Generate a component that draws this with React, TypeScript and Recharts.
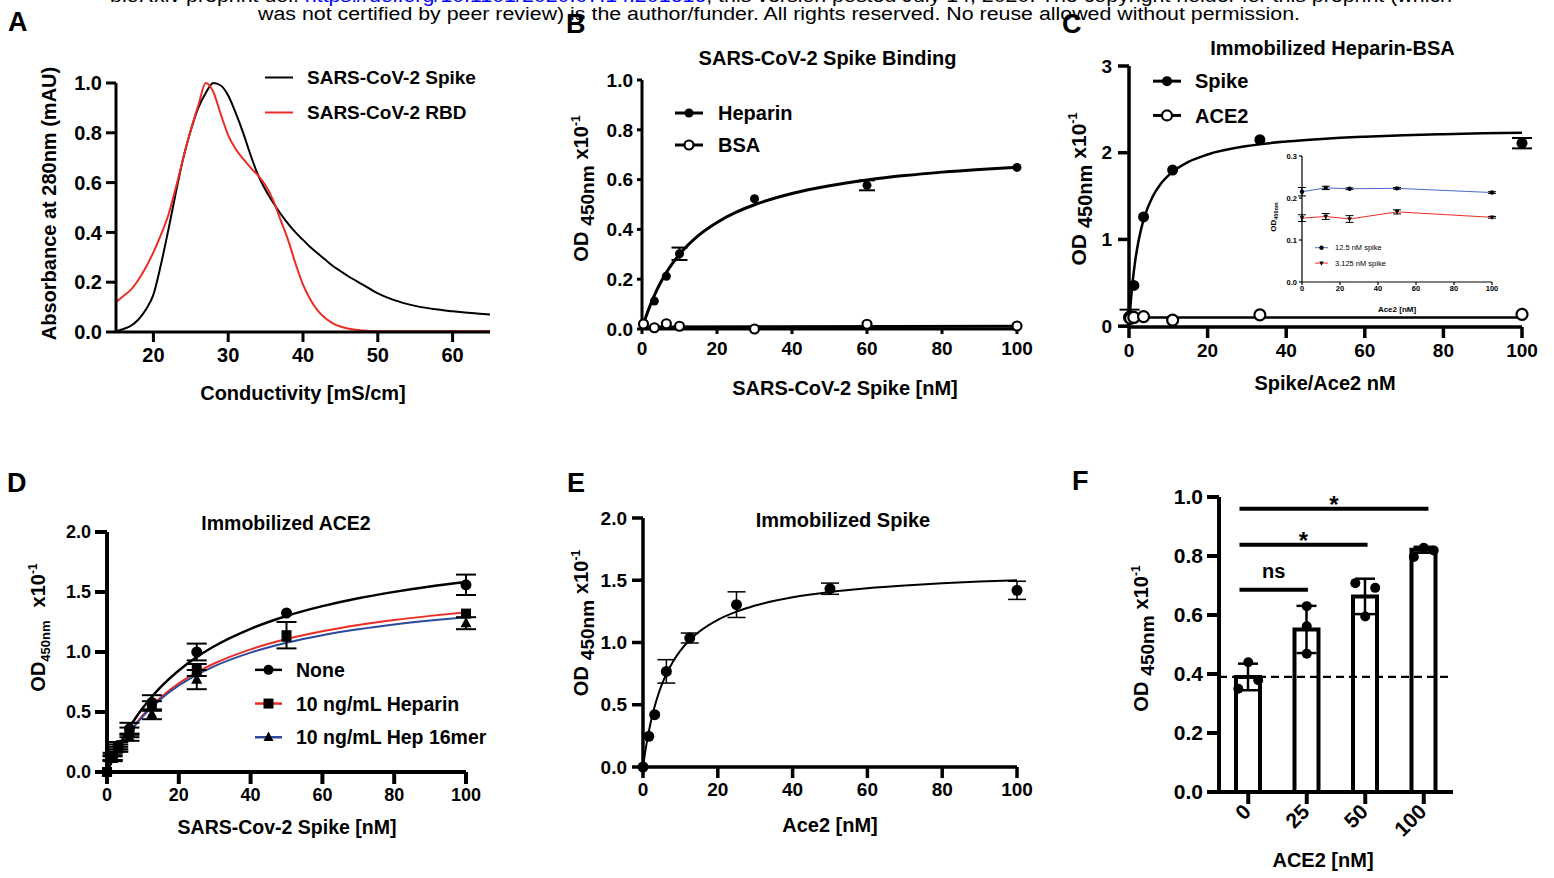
import React from 'react';
import { ComposedChart, LineChart, Line, Scatter, XAxis, YAxis, ErrorBar, Legend, Bar, ReferenceLine } from 'recharts';

const FONT = '"Liberation Sans", Arial, Helvetica, sans-serif';
const RED = '#ec2d25';
const BLUE = '#2c4a9c';
const INSET_BLUE = '#4a6cc8';

// ---------- Panel A: elution profiles ----------
const condA = [15,16,17,18,19,20,21,22,23,24,25,26,27,28,29,30,31,32,33,34,35,36,37,38,39,40,41,42,43,44,45,46,48,50,52,55,58,60,62,65];
const spikeA = [0.003,0.012,0.025,0.05,0.09,0.15,0.27,0.41,0.56,0.70,0.81,0.90,0.96,1.0,0.99,0.95,0.88,0.80,0.71,0.63,0.57,0.52,0.475,0.435,0.40,0.37,0.34,0.315,0.29,0.265,0.245,0.225,0.19,0.155,0.13,0.105,0.09,0.083,0.077,0.07];
const rbdA = [0.12,0.145,0.17,0.21,0.26,0.32,0.39,0.47,0.58,0.70,0.81,0.91,1.0,0.965,0.875,0.79,0.735,0.695,0.66,0.628,0.588,0.53,0.45,0.37,0.275,0.19,0.13,0.085,0.055,0.035,0.022,0.014,0.006,0.003,0.003,0.003,0.003,0.004,0.003,0.004];
const ticksA = [20,30,40,50,60];

// ---------- Panel B: spike binding ----------
const concB = [0.4, 3.3, 6.5, 10, 30, 60, 100];
const heparinB = [0.021, 0.112, 0.212, 0.302, 0.523, 0.577, 0.649];
const heparinErrB = [0, 0, 0, 0.025, 0, 0.02, 0];
const bsaB = [0.02, 0.005, 0.021, 0.011, 0.0, 0.019, 0.012];
const fitXB = [0,1,2,3,5,7,10,15,20,25,30,40,50,60,70,80,90,100];
const heparinFitB = [0,0.047,0.088,0.125,0.188,0.239,0.300,0.375,0.428,0.468,0.499,0.544,0.575,0.598,0.616,0.630,0.641,0.650];
const bsaFitXB = [0, 100];
const bsaFitB = [0.008, 0.011];

// ---------- Panel C: immobilized heparin-BSA ----------
const concC = [0.14, 0.41, 1.23, 3.7, 11.1, 33.3, 100];
const spikeC = [0.09, 0.12, 0.47, 1.26, 1.80, 2.15, 2.11];
const spikeErrC = [0.1, 0, 0, 0, 0, 0, 0.06];
const ace2C = [0.1, 0.09, 0.1, 0.11, 0.07, 0.13, 0.135];
const fitXC = [0,0.25,0.5,1,1.5,2,3,4,6,8,11,15,20,30,40,50,60,70,80,90,100];
const spikeFitC = [0,0.164,0.306,0.541,0.726,0.876,1.104,1.269,1.492,1.636,1.776,1.892,1.980,2.077,2.129,2.162,2.184,2.201,2.213,2.223,2.230];
const ace2FitXC = [0, 100];
const ace2FitC = [0.1, 0.1];

// inset
const aceInset = [0, 12.5, 25, 50, 100];
const spike125 = [0.215, 0.224, 0.222, 0.223, 0.213];
const spike125Err = [0.01, 0.004, 0.002, 0.002, 0.002];
const spike3125 = [0.152, 0.156, 0.150, 0.167, 0.154];
const spike3125Err = [0.008, 0.007, 0.008, 0.005, 0.002];

// ---------- Panel D: immobilized ACE2 ----------
const concD = [0, 1.56, 3.125, 6.25, 12.5, 25, 50, 100];
const noneD = [0, 0.13, 0.22, 0.36, 0.58, 1.0, 1.325, 1.56];
const noneErrD = [0, 0.03, 0.03, 0.05, 0.06, 0.07, 0, 0.085];
const hepD = [0, 0.12, 0.2, 0.33, 0.55, 0.85, 1.14, 1.32];
const hepErrD = [0, 0.02, 0.03, 0.04, 0.04, 0.05, 0.11, 0];
const h16D = [0, 0.11, 0.19, 0.29, 0.48, 0.77, 1.12, 1.24];
const h16ErrD = [0, 0.02, 0.02, 0.03, 0.04, 0.08, 0, 0.05];
const fitXD = [0,2,4,6,8,10,12.5,15,20,25,30,40,50,60,70,80,90,100];
const noneFitD = [0,0.136,0.254,0.359,0.452,0.535,0.627,0.709,0.846,0.958,1.050,1.193,1.300,1.382,1.448,1.501,1.546,1.583];
const hepFitD = [0,0.123,0.229,0.321,0.402,0.474,0.553,0.622,0.738,0.830,0.906,1.022,1.108,1.173,1.225,1.267,1.301,1.330];
const h16FitD = [0,0.121,0.225,0.315,0.394,0.464,0.541,0.609,0.721,0.810,0.883,0.995,1.077,1.140,1.189,1.229,1.262,1.290];

// ---------- Panel E: immobilized spike ----------
const concE = [0, 1.56, 3.125, 6.25, 12.5, 25, 50, 100];
const spikeE = [0, 0.246, 0.42, 0.768, 1.036, 1.304, 1.432, 1.419];
const errE = [0, 0, 0, 0.094, 0.04, 0.103, 0.045, 0.073];
const fitXE = [0,1,2,3,4,5,6.25,8,10,12.5,15,20,25,30,40,50,60,70,80,90,100];
const fitE = [0,0.196,0.350,0.473,0.574,0.659,0.747,0.846,0.935,1.020,1.086,1.182,1.248,1.297,1.363,1.406,1.436,1.458,1.475,1.489,1.500];

// ---------- Panel F: bars ----------
const catsF = ['0', '25', '50', '100'];
const meanF = [0.39, 0.551, 0.663, 0.821];
const sdF = [0.045, 0.08, 0.06, 0.01];
const repsF = [[0.35, 0.44, 0.379], [0.63, 0.562, 0.469], [0.708, 0.595, 0.692], [0.797, 0.828, 0.819]];
const jitterF = [[-0.17, 0, 0.17], [0, 0, 0], [-0.17, 0, 0.17], [-0.17, 0, 0.17]];
const baselineF = 0.39;
const sigY = [0.686, 0.838, 0.96];
const sigFrom = [-0.15, -0.15, -0.15];
const sigTo = [1.02, 2.04, 3.08];
const sigText = ['ns', '*', '*'];

// ---------- tables ----------
const tableA = condA.map((x, i) => ({ x, spike: spikeA[i], rbd: rbdA[i] }));
const hepPtsB = concB.map((x, i) => ({ x, y: heparinB[i], e: heparinErrB[i] }));
const bsaPtsB = concB.map((x, i) => ({ x, y: bsaB[i] }));
const hepFitTB = fitXB.map((x, i) => ({ x, y: heparinFitB[i] }));
const bsaFitTB = bsaFitXB.map((x, i) => ({ x, y: bsaFitB[i] }));
const spikePtsC = concC.map((x, i) => ({ x, y: spikeC[i], e: spikeErrC[i] }));
const acePtsC = concC.map((x, i) => ({ x, y: ace2C[i] }));
const spikeFitTC = fitXC.map((x, i) => ({ x, y: spikeFitC[i] }));
const aceFitTC = ace2FitXC.map((x, i) => ({ x, y: ace2FitC[i] }));
const insetT = aceInset.map((x, i) => ({ x, a: spike125[i], ae: spike125Err[i], b: spike3125[i], be: spike3125Err[i] }));
const nonePtsD = concD.map((x, i) => ({ x, y: noneD[i], e: noneErrD[i] }));
const hepPtsD = concD.map((x, i) => ({ x, y: hepD[i], e: hepErrD[i] }));
const h16PtsD = concD.map((x, i) => ({ x, y: h16D[i], e: h16ErrD[i] }));
const noneFitTD = fitXD.map((x, i) => ({ x, y: noneFitD[i] }));
const hepFitTD = fitXD.map((x, i) => ({ x, y: hepFitD[i] }));
const h16FitTD = fitXD.map((x, i) => ({ x, y: h16FitD[i] }));
const ptsE = concE.map((x, i) => ({ x, y: spikeE[i], e: errE[i] }));
const fitTE = fitXE.map((x, i) => ({ x, y: fitE[i] }));
const barsF = catsF.map((c, i) => ({ c, m: meanF[i], sd: sdF[i] }));
const dotsF = repsF.flatMap((r, i) => r.map((y, j) => ({ x: i + jitterF[i][j], y })));

// ---------- helpers ----------
const ax = (w: number, size: number, fs: number, margin = 4) => ({
  axisLine: { stroke: '#000', strokeWidth: w },
  tickLine: { stroke: '#000', strokeWidth: w },
  tickSize: size,
  tickMargin: margin,
  tick: { fill: '#000', fontSize: fs, fontWeight: 700 },
});
const f1 = (v: number) => v.toFixed(1);

function Marker({ kind, cx, cy, s }: { kind: string; cx: number; cy: number; s: number }) {
  if (cx == null || cy == null) return null;
  if (kind === 'circle') return <circle cx={cx} cy={cy} r={s} fill="#000" />;
  if (kind === 'open') return <circle cx={cx} cy={cy} r={s} fill="#fff" stroke="#000" strokeWidth={2.2} />;
  if (kind === 'square') return <rect x={cx - s} y={cy - s} width={2 * s} height={2 * s} fill="#000" />;
  if (kind === 'triangle') return <polygon points={`${cx},${cy - s * 1.15} ${cx - s},${cy + s * 0.75} ${cx + s},${cy + s * 0.75}`} fill="#000" />;
  if (kind === 'tridown') return <polygon points={`${cx - s},${cy - s * 0.75} ${cx + s},${cy - s * 0.75} ${cx},${cy + s * 1.15}`} fill="#000" />;
  return null;
}
const shapeOf = (kind: string, s: number) => (p: any) => <Marker kind={kind} cx={p.cx} cy={p.cy} s={s} />;

type LegItem = { name: string; line: string; kind: string };
type LegOpt = { rowH: number; lineLen: number; textX: number; fs: number; s: number; lw: number; weight: number; width: number };
const legendContent = (items: LegItem[], o: LegOpt) => () => (
  <svg width={o.width} height={items.length * o.rowH} style={{ display: 'block', overflow: 'visible' }}>
    {items.map((it, i) => {
      const cy = o.rowH * i + o.rowH / 2;
      return (
        <g key={i}>
          <line x1={0} x2={o.lineLen} y1={cy} y2={cy} stroke={it.line} strokeWidth={o.lw} />
          <Marker kind={it.kind} cx={o.lineLen / 2} cy={cy} s={o.s} />
          <text x={o.textX} y={cy + o.fs * 0.36} fontSize={o.fs} fontWeight={o.weight} fill="#000" fontFamily={FONT}>{it.name}</text>
        </g>
      );
    })}
  </svg>
);

function OdLabel(props: { x: number; y: number; fs: number; subFs: number; subDy: number; gap1: number; gap2: number; withX?: boolean }) {
  const { x, y, fs, subFs, subDy, gap1, gap2, withX = true } = props;
  return (
    <text transform={`translate(${x},${y}) rotate(-90)`} textAnchor="middle" fontSize={fs} fontWeight={700} fill="#000" fontFamily={FONT}>
      <tspan>OD</tspan>
      <tspan dx={gap1} dy={subDy} fontSize={subFs}>450nm</tspan>
      {withX && <tspan dx={gap2} dy={-subDy}>x10</tspan>}
      {withX && <tspan dy={-fs * 0.42} fontSize={fs * 0.6}>-1</tspan>}
    </text>
  );
}
const xText = (x: number, y: number, text: string, fs = 20) => () => (
  <text x={x} y={y} textAnchor="middle" fontSize={fs} fontWeight={700} fill="#000" fontFamily={FONT}>{text}</text>
);

const RotTick = (p: any) => {
  const x = p.x + 4, y = p.y + 7;
  return <text x={x} y={y} textAnchor="end" transform={`rotate(-45 ${x} ${y})`} fontSize={21} fontWeight={700} fill="#000" fontFamily={FONT}>{p.payload.value}</text>;
};

const Pos = ({ l, t, children }: any) => <div style={{ position: 'absolute', left: l, top: t }}>{children}</div>;

// ---------- panels ----------
function PanelA() {
  const L = 0, T = 40;
  return (
    <Pos l={L} t={T}>
      <LineChart width={520} height={380} data={tableA} margin={{ top: 43, right: 30, left: 0, bottom: 0 }}>
        <XAxis type="number" dataKey="x" domain={[15, 65]} ticks={ticksA} interval={0} height={88} {...ax(3, 10, 20, 6)} label={xText(303 - L, 400 - T, 'Conductivity [mS/cm]')} />
        <YAxis type="number" domain={[0, 1]} ticks={[0, 0.2, 0.4, 0.6, 0.8, 1]} interval={0} width={116} tickFormatter={f1} {...ax(3, 10, 20, 4)}
          label={() => <text transform={`translate(${56 - L},${203.5 - T}) rotate(-90)`} textAnchor="middle" fontSize={20} fontWeight={700} fill="#000" fontFamily={FONT}>Absorbance at 280nm (mAU)</text>} />
        <Line dataKey="spike" name="SARS-CoV-2 Spike" stroke="#000" strokeWidth={2} dot={false} type="monotone" isAnimationActive={false} />
        <Line dataKey="rbd" name="SARS-CoV-2 RBD" stroke={RED} strokeWidth={2} dot={false} type="monotone" isAnimationActive={false} />
        <Legend layout="vertical" align="center" verticalAlign="middle" wrapperStyle={{ left: 265 - L, top: 77 - T - 17.5, width: 240 }}
          content={legendContent([{ name: 'SARS-CoV-2 Spike', line: '#000', kind: 'none' }, { name: 'SARS-CoV-2 RBD', line: RED, kind: 'none' }], { rowH: 35, lineLen: 28, textX: 42, fs: 19, s: 0, lw: 2, weight: 700, width: 240 })} />
      </LineChart>
    </Pos>
  );
}

function PanelB() {
  const L = 540, T = 40;
  return (
    <Pos l={L} t={T}>
      <ComposedChart width={510} height={380} margin={{ top: 40, right: 33, left: 0, bottom: 0 }}>
        <XAxis type="number" dataKey="x" domain={[0, 100]} ticks={[0, 20, 40, 60, 80, 100]} interval={0} height={91} {...ax(3, 5, 19, 8)} label={xText(845 - L, 395 - T, 'SARS-CoV-2 Spike [nM]')} />
        <YAxis type="number" domain={[0, 1]} ticks={[0, 0.2, 0.4, 0.6, 0.8, 1]} interval={0} width={102} tickFormatter={f1} {...ax(3, 5, 19, 4)}
          label={() => <OdLabel x={588 - L} y={188.5 - T} fs={20} subFs={19} subDy={6} gap1={6} gap2={6} />} />
        <Line data={hepFitTB} dataKey="y" stroke="#000" strokeWidth={3} dot={false} type="monotone" legendType="none" isAnimationActive={false} />
        <Line data={bsaFitTB} dataKey="y" stroke="#000" strokeWidth={3} dot={false} type="linear" legendType="none" isAnimationActive={false} />
        <Scatter data={hepPtsB} dataKey="y" name="Heparin" shape={shapeOf('circle', 4.5)} isAnimationActive={false}>
          <ErrorBar dataKey="e" direction="y" width={8} stroke="#000" strokeWidth={2} />
        </Scatter>
        <Scatter data={bsaPtsB} dataKey="y" name="BSA" shape={shapeOf('open', 4.5)} isAnimationActive={false} />
        <Legend layout="vertical" align="center" verticalAlign="middle" wrapperStyle={{ left: 675 - L, top: 113 - T - 16, width: 160 }}
          content={legendContent([{ name: 'Heparin', line: '#000', kind: 'circle' }, { name: 'BSA', line: '#000', kind: 'open' }], { rowH: 32, lineLen: 28, textX: 43, fs: 20, s: 4.5, lw: 3, weight: 700, width: 160 })} />
      </ComposedChart>
    </Pos>
  );
}

function PanelC() {
  const L = 1040, T = 30;
  return (
    <Pos l={L} t={T}>
      <ComposedChart width={514} height={390} margin={{ top: 36, right: 32, left: 0, bottom: 0 }}>
        <XAxis type="number" dataKey="x" domain={[0, 100]} ticks={[0, 20, 40, 60, 80, 100]} interval={0} height={93} {...ax(3.5, 11, 19, 6)} label={xText(1325 - L, 390 - T, 'Spike/Ace2 nM')} />
        <YAxis type="number" domain={[0, 3]} ticks={[0, 1, 2, 3]} interval={0} width={89} {...ax(3.5, 11, 19, 6)}
          label={() => <OdLabel x={1086 - L} y={189 - T} fs={21} subFs={20} subDy={6} gap1={6} gap2={6} />} />
        <Line data={spikeFitTC} dataKey="y" stroke="#000" strokeWidth={2.5} dot={false} type="monotone" legendType="none" isAnimationActive={false} />
        <Line data={aceFitTC} dataKey="y" stroke="#000" strokeWidth={2.5} dot={false} type="linear" legendType="none" isAnimationActive={false} />
        <Scatter data={spikePtsC} dataKey="y" name="Spike" shape={shapeOf('circle', 5.5)} isAnimationActive={false}>
          <ErrorBar dataKey="e" direction="y" width={10} stroke="#000" strokeWidth={2} />
        </Scatter>
        <Scatter data={acePtsC} dataKey="y" name="ACE2" shape={shapeOf('open', 5.5)} isAnimationActive={false} />
        <Legend layout="vertical" align="center" verticalAlign="middle" wrapperStyle={{ left: 1153 - L, top: 80.7 - T - 17, width: 160 }}
          content={legendContent([{ name: 'Spike', line: '#000', kind: 'circle' }, { name: 'ACE2', line: '#000', kind: 'open' }], { rowH: 34.3, lineLen: 28, textX: 42, fs: 20, s: 5, lw: 3, weight: 700, width: 160 })} />
      </ComposedChart>
    </Pos>
  );
}

function InsetC() {
  const L = 1262, T = 150;
  return (
    <Pos l={L} t={T}>
      <ComposedChart width={240} height={165} data={insetT} margin={{ top: 6, right: 10, left: 0, bottom: 0 }}>
        <XAxis type="number" dataKey="x" domain={[0, 100]} ticks={[0, 20, 40, 60, 80, 100]} interval={0} height={33} {...ax(1.2, 3, 7.5, 1)} label={xText(1397 - L, 312 - T, 'Ace2 [nM]', 8)} />
        <YAxis type="number" domain={[0, 0.3]} ticks={[0, 0.1, 0.2, 0.3]} interval={0} width={40} tickFormatter={f1} {...ax(1.2, 3, 7.5, 2)}
          label={() => <OdLabel x={1276 - L} y={217 - T} fs={8} subFs={5.5} subDy={2} gap1={0} gap2={0} withX={false} />} />
        <Line dataKey="a" name="12.5 nM spike" stroke={INSET_BLUE} strokeWidth={1} type="linear" dot={shapeOf('circle', 2.2)} isAnimationActive={false}>
          <ErrorBar dataKey="ae" direction="y" width={4} stroke="#000" strokeWidth={1} />
        </Line>
        <Line dataKey="b" name="3.125 nM spike" stroke={RED} strokeWidth={1} type="linear" dot={shapeOf('tridown', 2.4)} isAnimationActive={false}>
          <ErrorBar dataKey="be" direction="y" width={4} stroke="#000" strokeWidth={1} />
        </Line>
        <Legend layout="vertical" align="center" verticalAlign="middle" wrapperStyle={{ left: 1315 - L, top: 247.3 - T - 7.7, width: 90 }}
          content={legendContent([{ name: '12.5 nM spike', line: INSET_BLUE, kind: 'circle' }, { name: '3.125 nM spike', line: RED, kind: 'tridown' }], { rowH: 15.4, lineLen: 13, textX: 20, fs: 7.5, s: 2.2, lw: 1, weight: 400, width: 90 })} />
      </ComposedChart>
    </Pos>
  );
}

function PanelD() {
  const L = 0, T = 500;
  return (
    <Pos l={L} t={T}>
      <ComposedChart width={520} height={350} margin={{ top: 32, right: 54, left: 0, bottom: 0 }}>
        <XAxis type="number" dataKey="x" domain={[0, 100]} ticks={[0, 20, 40, 60, 80, 100]} interval={0} height={78} {...ax(4, 12, 18, 4)} label={xText(287 - L, 834 - T, 'SARS-Cov-2 Spike [nM]', 19.5)} />
        <YAxis type="number" domain={[0, 2]} ticks={[0, 0.5, 1, 1.5, 2]} interval={0} width={107} tickFormatter={f1} {...ax(4, 12, 18, 4)}
          label={() => <OdLabel x={45 - L} y={627.5 - T} fs={20} subFs={13} subDy={5} gap1={0} gap2={13} />} />
        <Line data={hepFitTD} dataKey="y" stroke={RED} strokeWidth={2} dot={false} type="monotone" legendType="none" isAnimationActive={false} />
        <Line data={h16FitTD} dataKey="y" stroke={BLUE} strokeWidth={2} dot={false} type="monotone" legendType="none" isAnimationActive={false} />
        <Line data={noneFitTD} dataKey="y" stroke="#000" strokeWidth={2.5} dot={false} type="monotone" legendType="none" isAnimationActive={false} />
        <Scatter data={h16PtsD} dataKey="y" name="10 ng/mL Hep 16mer" shape={shapeOf('triangle', 5.5)} isAnimationActive={false}>
          <ErrorBar dataKey="e" direction="y" width={10} stroke="#000" strokeWidth={2} />
        </Scatter>
        <Scatter data={hepPtsD} dataKey="y" name="10 ng/mL Heparin" shape={shapeOf('square', 5)} isAnimationActive={false}>
          <ErrorBar dataKey="e" direction="y" width={10} stroke="#000" strokeWidth={2} />
        </Scatter>
        <Scatter data={nonePtsD} dataKey="y" name="None" shape={shapeOf('circle', 5.5)} isAnimationActive={false}>
          <ErrorBar dataKey="e" direction="y" width={10} stroke="#000" strokeWidth={2} />
        </Scatter>
        <Legend layout="vertical" align="center" verticalAlign="middle" wrapperStyle={{ left: 255 - L, top: 670 - T - 16.8, width: 240 }}
          content={legendContent([{ name: 'None', line: '#000', kind: 'circle' }, { name: '10 ng/mL Heparin', line: RED, kind: 'square' }, { name: '10 ng/mL Hep 16mer', line: BLUE, kind: 'triangle' }], { rowH: 33.7, lineLen: 27, textX: 41, fs: 19.5, s: 5, lw: 2.5, weight: 700, width: 240 })} />
      </ComposedChart>
    </Pos>
  );
}

function PanelE() {
  const L = 540, T = 500;
  return (
    <Pos l={L} t={T}>
      <ComposedChart width={520} height={350} margin={{ top: 18, right: 43, left: 0, bottom: 0 }}>
        <XAxis type="number" dataKey="x" domain={[0, 100]} ticks={[0, 20, 40, 60, 80, 100]} interval={0} height={83} {...ax(3.5, 11, 19, 5)} label={xText(830 - L, 832 - T, 'Ace2 [nM]')} />
        <YAxis type="number" domain={[0, 2]} ticks={[0, 0.5, 1, 1.5, 2]} interval={0} width={103} tickFormatter={f1} {...ax(3.5, 11, 19, 5)}
          label={() => <OdLabel x={588 - L} y={623 - T} fs={20} subFs={19} subDy={6} gap1={6} gap2={6} />} />
        <Line data={fitTE} dataKey="y" stroke="#000" strokeWidth={2} dot={false} type="monotone" legendType="none" isAnimationActive={false} />
        <Scatter data={ptsE} dataKey="y" name="Spike" shape={shapeOf('circle', 5.5)} isAnimationActive={false}>
          <ErrorBar dataKey="e" direction="y" width={9} stroke="#000" strokeWidth={1.5} />
        </Scatter>
      </ComposedChart>
    </Pos>
  );
}

function PanelF() {
  const L = 1100, T = 480;
  return (
    <Pos l={L} t={T}>
      <ComposedChart width={380} height={398} data={barsF} margin={{ top: 17, right: 27, left: 0, bottom: 0 }}>
        <XAxis xAxisId="cat" dataKey="c" type="category" height={86} interval={0} {...ax(4, 12, 21, 2)} tick={RotTick} label={xText(1323 - L, 867 - T, 'ACE2 [nM]')} />
        <XAxis xAxisId="num" dataKey="x" type="number" domain={[-0.5, 3.5]} hide />
        <YAxis type="number" domain={[0, 1]} ticks={[0, 0.2, 0.4, 0.6, 0.8, 1]} interval={0} width={119} tickFormatter={f1} {...ax(4, 12, 21, 4)}
          label={() => <OdLabel x={1148 - L} y={638.5 - T} fs={20} subFs={19} subDy={6} gap1={6} gap2={6} />} />
        <Bar xAxisId="cat" dataKey="m" barSize={24} fill="#fff" stroke="#000" strokeWidth={4} isAnimationActive={false}>
          <ErrorBar dataKey="sd" direction="y" width={10} stroke="#000" strokeWidth={2.5} />
        </Bar>
        <ReferenceLine xAxisId="num" y={baselineF} stroke="#000" strokeWidth={2.2} strokeDasharray="8 5" />
        <Scatter xAxisId="num" data={dotsF} dataKey="y" shape={shapeOf('circle', 5)} isAnimationActive={false} />
        {sigY.map((y, i) => (
          <ReferenceLine key={i} xAxisId="num" segment={[{ x: sigFrom[i], y }, { x: sigTo[i], y }]} stroke="#000" strokeWidth={4} ifOverflow="visible"
            label={{ value: sigText[i], position: 'top', offset: sigText[i] === 'ns' ? 12 : -4, fontSize: sigText[i] === 'ns' ? 20 : 24, fontWeight: 700, fill: '#000' }} />
        ))}
      </ComposedChart>
    </Pos>
  );
}

function Overlay() {
  const letter = (x: number, y: number, t: string) => <text x={x} y={y} fontSize={27} fontWeight={700} fill="#000">{t}</text>;
  const title = (x: number, y: number, t: string, fs = 20) => <text x={x} y={y} textAnchor="middle" fontSize={fs} fontWeight={700} fill="#000">{t}</text>;
  return (
    <svg width={1554} height={878} style={{ position: 'absolute', left: 0, top: 0, pointerEvents: 'none', fontFamily: FONT }}>
      <text x={110} y={2} fontSize={18} textLength={1342} lengthAdjust="spacingAndGlyphs" fill="#000">bioRxiv preprint doi: <tspan fill="#0000ff">https://doi.org/10.1101/2020.07.14.201616</tspan>; this version posted July 14, 2020. The copyright holder for this preprint (which</text>
      <text x={258} y={20} fontSize={18} textLength={1042} lengthAdjust="spacingAndGlyphs" fill="#000">was not certified by peer review) is the author/funder. All rights reserved. No reuse allowed without permission.</text>
      {letter(8, 31, 'A')}
      {letter(566, 33, 'B')}
      {letter(1062, 33, 'C')}
      {letter(7, 492, 'D')}
      {letter(567, 492, 'E')}
      {letter(1072, 490, 'F')}
      {title(827.5, 65, 'SARS-CoV-2 Spike Binding')}
      {title(1332.5, 55, 'Immobilized Heparin-BSA')}
      {title(286, 530, 'Immobilized ACE2', 19.5)}
      {title(843, 527, 'Immobilized Spike')}
    </svg>
  );
}

export default function App() {
  return (
    <div style={{ position: 'absolute', left: 0, top: 0, width: 1554, height: 878, background: '#fff', fontFamily: FONT, overflow: 'hidden' }}>
      <PanelA />
      <PanelB />
      <PanelC />
      <InsetC />
      <PanelD />
      <PanelE />
      <PanelF />
      <Overlay />
    </div>
  );
}
